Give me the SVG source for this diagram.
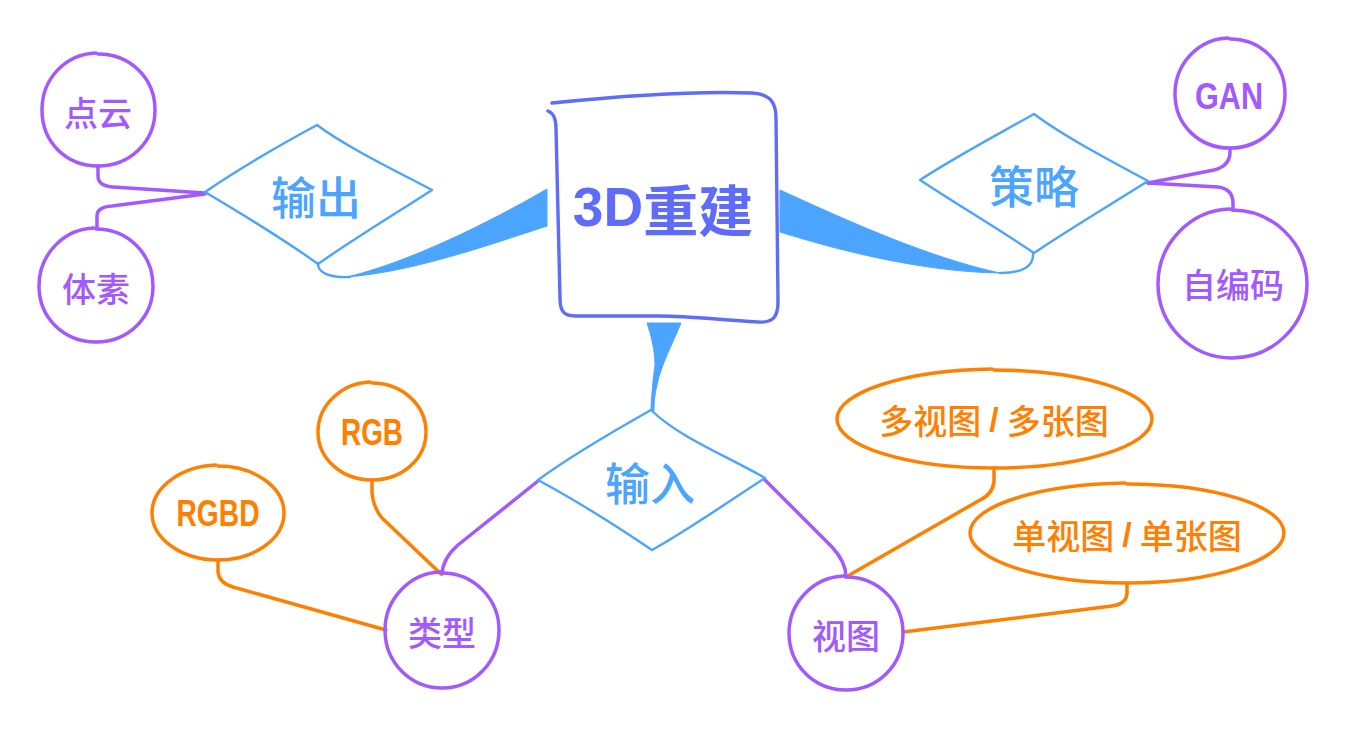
<svg xmlns="http://www.w3.org/2000/svg" width="1348" height="730" viewBox="0 0 1348 730">
<style>
.p{fill:none;stroke:#A259FF;stroke-width:3.5;stroke-linecap:round;stroke-linejoin:round}
.o{fill:none;stroke:#FF8000;stroke-width:3.5;stroke-linecap:round;stroke-linejoin:round}
.b{fill:none;stroke:#4BA5FF;stroke-width:2.4;stroke-linecap:round;stroke-linejoin:round}
.bf{fill:#4BA5FF;stroke:#4BA5FF;stroke-width:1}
.m{fill:#fff;stroke:#5F6CF9;stroke-width:3.4;stroke-linecap:round;stroke-linejoin:round}
.nd{fill:#fff}
text{font-family:"Noto Sans CJK SC","Liberation Sans",sans-serif;text-anchor:middle;dominant-baseline:central}
.tb{fill:#4BA5FF;font-size:45px;font-weight:500}
.tp{fill:#A259FF;font-size:34px;font-weight:500}
.to{fill:#FF8000;font-size:34px;font-weight:500}
.tl{font-family:"Liberation Sans","DejaVu Sans",sans-serif;font-weight:bold}
</style>
<g id="connectors">
<path class="bf" d="M547,189 L547,226 C480,248 410,272 347,277 C410,262 490,222 547,189 Z"/>
<path class="b" d="M350,277 C328,278 318,272 318,264"/>
<path class="bf" d="M780,190 L780,232 C850,254 930,272 1000,273 C930,258 850,222 780,190 Z"/>
<path class="b" d="M1000,273 C1025,273 1034,265 1033,253"/>
<path class="bf" d="M647,323 L681,323 C672,345 661,365 657,385 C654,398 654,405 654,411 L651,411 C651,400 653,380 655,365 C655,350 651,335 647,323 Z"/>
<path class="p" d="M98,166 L98,176 Q98,186 113,187 L205,193"/>
<path class="p" d="M97,228 L97,216 Q97,207 112,206 L205,194"/>
<path class="p" d="M1148,183 L1214,170 Q1230,166 1230,152 L1230,148"/>
<path class="p" d="M1148,183 L1218,187 Q1233,189 1233,203 L1233,210"/>
<path class="p" d="M538,481 L458,545 Q443,558 442,574"/>
<path class="p" d="M765,480 L832,547 Q846,562 846,577"/>
<path class="o" d="M372,480 L372,492 Q373,507 382,518 L441,574"/>
<path class="o" d="M218,560 L218,572 Q219,583 233,587 L386,630"/>
<path class="o" d="M994,468 L994,481 Q993,494 980,500 L846,577"/>
<path class="o" d="M1127,583 L1127,594 Q1126,604 1112,606 L903,632"/>
</g>
<g id="center">
<path class="m" d="M552,103 C620,96 700,91 752,93 C770,94 776,102 776,118 L778,302 C778,318 772,323 758,322 C720,320 690,316 660,316 L575,316 C563,316 560,310 560,298 L556,128 C556,118 553,113 548,111"/>
<text x="663" y="207" fill="#5F6CF9" font-size="55" font-weight="bold"><tspan class="tl">3D</tspan>重建</text>
</g>
<g id="output">
<path class="b nd" d="M205,192 C240,168 280,145 317,125 C345,146 390,168 432,190 C395,214 352,240 318,264 C285,240 242,214 205,192 Z"/>
<text class="tb" x="316" y="195">输出</text>
</g>
<g id="strategy">
<path class="b nd" d="M920,180 C955,157 995,136 1034,114 C1062,135 1105,158 1148,181 C1110,205 1068,230 1034,253 C1000,230 958,205 920,180 Z"/>
<text class="tb" x="1034" y="184">策略</text>
</g>
<g id="input">
<path class="b nd" d="M538,480 C572,455 612,432 651,410 C680,438 725,455 765,478 C728,502 688,530 652,550 C615,525 575,500 538,480 Z"/>
<text class="tb" x="650" y="481">输入</text>
</g>
<g id="pointcloud">
<path class="p" d="M98,54 C130,54 155,78 155,110 C155,142 130,166 98,166 C66,166 42,142 42,110 C42,78 66,54 96,53"/>
<text class="tp" x="98" y="111">点云</text>
</g>
<g id="voxel">
<path class="p" d="M96,229 C128,229 153,254 153,286 C153,318 128,342 96,342 C64,342 39,318 39,286 C39,254 64,229 94,228"/>
<text class="tp" x="96" y="287">体素</text>
</g>
<g id="gan">
<path class="p" d="M1230,39 C1261,39 1285,63 1285,94 C1285,125 1261,148 1230,148 C1199,148 1175,125 1175,94 C1175,63 1199,39 1228,38"/>
<text class="tl" x="1229" y="96" fill="#A259FF" font-size="37" textLength="68" lengthAdjust="spacingAndGlyphs">GAN</text>
</g>
<g id="autoencoder">
<path class="p" d="M1232,210 C1273,210 1307,243 1307,284 C1307,325 1273,358 1232,358 C1191,358 1158,325 1158,284 C1158,243 1191,210 1230,209"/>
<text class="tp" x="1233" y="283">自编码</text>
</g>
<g id="type">
<path class="p" d="M442,573 C474,573 499,599 499,630 C499,662 474,688 442,688 C410,688 385,662 385,630 C385,599 410,573 440,572"/>
<text class="tp" x="442" y="631">类型</text>
</g>
<g id="view">
<path class="p" d="M846,577 C878,577 903,602 903,633 C903,665 878,690 846,690 C814,690 789,665 789,633 C789,602 814,577 844,576"/>
<text class="tp" x="846" y="634">视图</text>
</g>
<g id="rgb">
<path class="o" d="M372,383 C402,383 426,405 426,432 C426,459 402,480 372,480 C342,480 318,459 318,432 C318,405 342,383 370,382"/>
<text class="tl" x="372" y="432" fill="#FF8000" font-size="37" textLength="62" lengthAdjust="spacingAndGlyphs">RGB</text>
</g>
<g id="rgbd">
<path class="o" d="M218,466 C254,466 284,487 284,513 C284,539 254,560 218,560 C182,560 152,539 152,513 C152,487 182,466 216,465"/>
<text class="tl" x="218" y="513" fill="#FF8000" font-size="37" textLength="83" lengthAdjust="spacingAndGlyphs">RGBD</text>
</g>
<g id="multiview">
<path class="o" d="M994,370 C1081,370 1152,392 1152,419 C1152,446 1081,468 994,468 C907,468 837,446 837,419 C837,392 907,370 992,369"/>
<text class="to" x="994" y="419">多视图<tspan class="tl" dx="8">/</tspan><tspan dx="8">多张图</tspan></text>
</g>
<g id="singleview">
<path class="o" d="M1127,484 C1214,484 1284,506 1284,533 C1284,560 1214,583 1127,583 C1040,583 970,560 970,533 C970,506 1040,484 1125,483"/>
<text class="to" x="1127" y="534">单视图<tspan class="tl" dx="8">/</tspan><tspan dx="8">单张图</tspan></text>
</g>
</svg>
